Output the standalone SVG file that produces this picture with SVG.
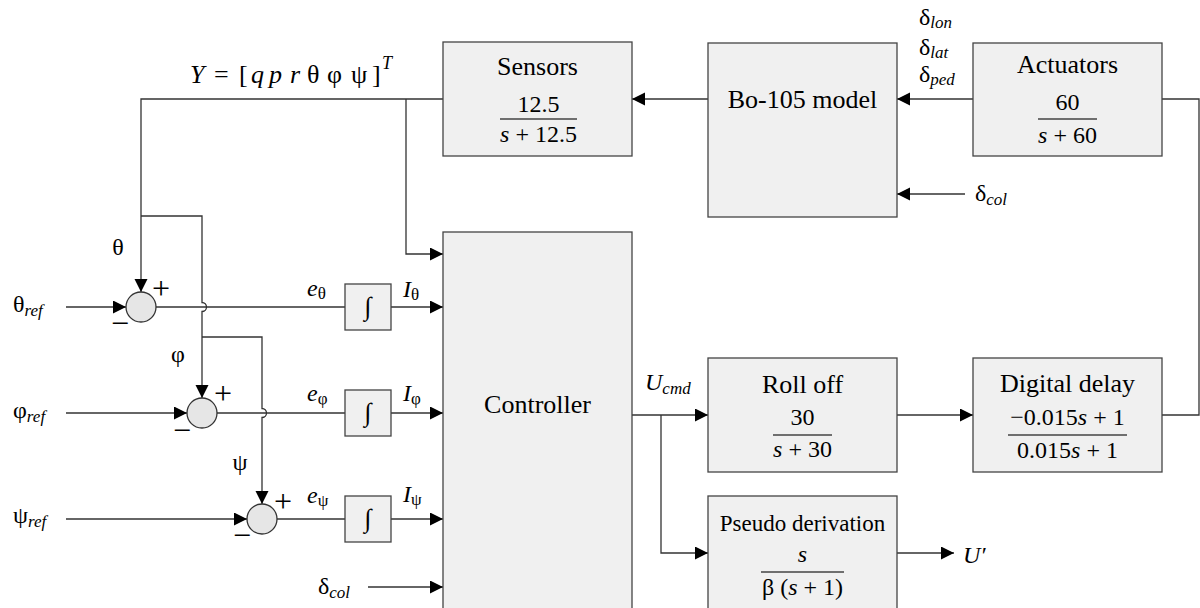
<svg xmlns="http://www.w3.org/2000/svg" width="1200" height="608" viewBox="0 0 1200 608">
<defs>
<style>
.box{fill:#f0f0f0;stroke:#444;stroke-width:1.3}
.sum{fill:#e6e6e6;stroke:#333;stroke-width:1.3}
.ln{fill:none;stroke:#333;stroke-width:1.3}
.arr{fill:none;stroke:#333;stroke-width:1.3;marker-end:url(#ah)}
.bar{stroke:#444;stroke-width:1.3}
text{font-family:"Liberation Serif","Times New Roman",serif;font-size:24px;fill:#000}
.c{text-anchor:middle}
.t{font-size:26px}
.i{font-style:italic}
.sub{font-style:italic;font-size:17px}
.sg{font-size:17px}
text.pm{font-size:32px;text-anchor:middle}
</style>
<marker id="ah" markerUnits="userSpaceOnUse" markerWidth="14" markerHeight="14" refX="13" refY="6.5" orient="auto">
<path d="M0,0 L13,6.5 L0,13 z" fill="#000"/>
</marker>
</defs>

<g id="connectors">
<path class="arr" d="M443,99 H141 V292"/>
<path class="arr" d="M406,99 V254 H443"/>
<path class="arr" d="M141,216 H202 V302.5 a4.5,4.5 0 0 1 0,9 V398"/>
<path class="arr" d="M202,337 H262 V408.5 a4.5,4.5 0 0 1 0,9 V504"/>
<path class="arr" d="M66,307 H126"/>
<path class="ln" d="M156,307 H345"/>
<path class="arr" d="M391,307 H443"/>
<path class="arr" d="M66,413 H187"/>
<path class="ln" d="M217,413 H345"/>
<path class="arr" d="M391,413 H443"/>
<path class="arr" d="M66,519 H247"/>
<path class="ln" d="M277,519 H345"/>
<path class="arr" d="M391,519 H443"/>
<path class="arr" d="M368,587 H443"/>
<path class="arr" d="M632,415 H708"/>
<path class="arr" d="M661,415 V553 H708"/>
<path class="arr" d="M897,415 H973"/>
<path class="ln" d="M1162,415 H1199 V99 H1162"/>
<path class="arr" d="M973,99 H897"/>
<path class="arr" d="M965,194 H897"/>
<path class="arr" d="M708,99 H632"/>
<path class="arr" d="M897,553 H954"/>
</g>

<g id="sensors">
<rect class="box" x="443" y="42" width="189" height="114"/>
<text class="c t" x="537.5" y="75">Sensors</text>
<text class="c" x="538.5" y="112">12.5</text>
<line class="bar" x1="500" y1="119" x2="577" y2="119"/>
<text class="c" x="538.5" y="142"><tspan class="i">s</tspan> + 12.5</text>
</g>

<g id="bo105">
<rect class="box" x="708" y="43" width="189" height="174"/>
<text class="c t" x="802.5" y="108">Bo-105 model</text>
</g>

<g id="actuators">
<rect class="box" x="973" y="43" width="189" height="113"/>
<text class="c t" x="1067.5" y="73">Actuators</text>
<text class="c" x="1067.5" y="110">60</text>
<line class="bar" x1="1038" y1="119" x2="1097" y2="119"/>
<text class="c" x="1067.5" y="143"><tspan class="i">s</tspan> + 60</text>
</g>

<g id="controller">
<rect class="box" x="443" y="232" width="189" height="380"/>
<text class="c t" x="537.5" y="413">Controller</text>
</g>

<g id="rolloff">
<rect class="box" x="708" y="358" width="189" height="114"/>
<text class="c t" x="802.5" y="393">Roll off</text>
<text class="c" x="802.5" y="425">30</text>
<line class="bar" x1="773" y1="435" x2="832" y2="435"/>
<text class="c" x="802.5" y="457"><tspan class="i">s</tspan> + 30</text>
</g>

<g id="digitaldelay">
<rect class="box" x="973" y="358" width="189" height="114"/>
<text class="c t" x="1067.5" y="392">Digital delay</text>
<text class="c" x="1067.5" y="425">−0.015<tspan class="i">s</tspan> + 1</text>
<line class="bar" x1="1008" y1="435" x2="1127" y2="435"/>
<text class="c" x="1067.5" y="458">0.015<tspan class="i">s</tspan> + 1</text>
</g>

<g id="pseudoderivation">
<rect class="box" x="708" y="496" width="189" height="116"/>
<text class="c" x="802.5" y="531" style="font-size:23px">Pseudo derivation</text>
<text class="c i" x="802.5" y="562">s</text>
<line class="bar" x1="761" y1="572" x2="844" y2="572"/>
<text class="c" x="802.5" y="595">β (<tspan class="i">s</tspan> + 1)</text>
</g>

<g id="integrator-theta">
<rect class="box" x="345" y="284" width="46" height="46"/>
<text class="c" x="368" y="315" style="font-size:26px">∫</text>
</g>
<g id="integrator-phi">
<rect class="box" x="345" y="390" width="46" height="46"/>
<text class="c" x="368" y="421" style="font-size:26px">∫</text>
</g>
<g id="integrator-psi">
<rect class="box" x="345" y="496" width="46" height="46"/>
<text class="c" x="368" y="527" style="font-size:26px">∫</text>
</g>

<g id="sum-theta">
<circle class="sum" cx="141" cy="307" r="15"/>
<text class="pm" x="161" y="299">+</text>
<text class="pm" x="120" y="334">−</text>
</g>
<g id="sum-phi">
<circle class="sum" cx="202" cy="413" r="15"/>
<text class="pm" x="223" y="404">+</text>
<text class="pm" x="182" y="441">−</text>
</g>
<g id="sum-psi">
<circle class="sum" cx="262" cy="519" r="15"/>
<text class="pm" x="283" y="512">+</text>
<text class="pm" x="242" y="546">−</text>
</g>

<g id="labels">
<text y="83" style="font-size:26px"><tspan class="i" x="190">Y</tspan><tspan x="214">=</tspan><tspan x="239">[</tspan><tspan class="i" x="251">q</tspan><tspan class="i" x="269">p</tspan><tspan class="i" x="290">r</tspan><tspan x="307">θ</tspan><tspan x="327">φ</tspan><tspan x="351">ψ</tspan><tspan x="372">]</tspan><tspan class="i" x="382" y="69" style="font-size:18px">T</tspan></text>
<text x="919" y="25">δ<tspan class="sub" dy="3">lon</tspan></text>
<text x="919" y="55">δ<tspan class="sub" dy="3">lat</tspan></text>
<text x="919" y="82">δ<tspan class="sub" dy="3">ped</tspan></text>
<text x="975" y="201">δ<tspan class="sub" dy="4">col</tspan></text>
<text x="318" y="594">δ<tspan class="sub" dy="4">col</tspan></text>
<text x="13" y="312">θ<tspan class="sub" dy="4">ref</tspan></text>
<text x="13" y="418">φ<tspan class="sub" dy="4">ref</tspan></text>
<text x="13" y="523">ψ<tspan class="sub" dy="4">ref</tspan></text>
<text class="c" x="118" y="255">θ</text>
<text class="c" x="178" y="362">φ</text>
<text class="c" x="240" y="470">ψ</text>
<text x="307" y="296"><tspan class="i">e</tspan><tspan class="sg" dy="3">θ</tspan></text>
<text x="307" y="401"><tspan class="i">e</tspan><tspan class="sg" dy="3">φ</tspan></text>
<text x="307" y="503"><tspan class="i">e</tspan><tspan class="sg" dy="3">ψ</tspan></text>
<text x="403" y="297"><tspan class="i">I</tspan><tspan class="sg" dy="3">θ</tspan></text>
<text x="403" y="401"><tspan class="i">I</tspan><tspan class="sg" dy="3">φ</tspan></text>
<text x="403" y="502"><tspan class="i">I</tspan><tspan class="sg" dy="3">ψ</tspan></text>
<text x="645" y="390"><tspan class="i">U</tspan><tspan class="sub" dy="4">cmd</tspan></text>
<text x="963" y="563" class="i">U′</text>
</g>
</svg>
